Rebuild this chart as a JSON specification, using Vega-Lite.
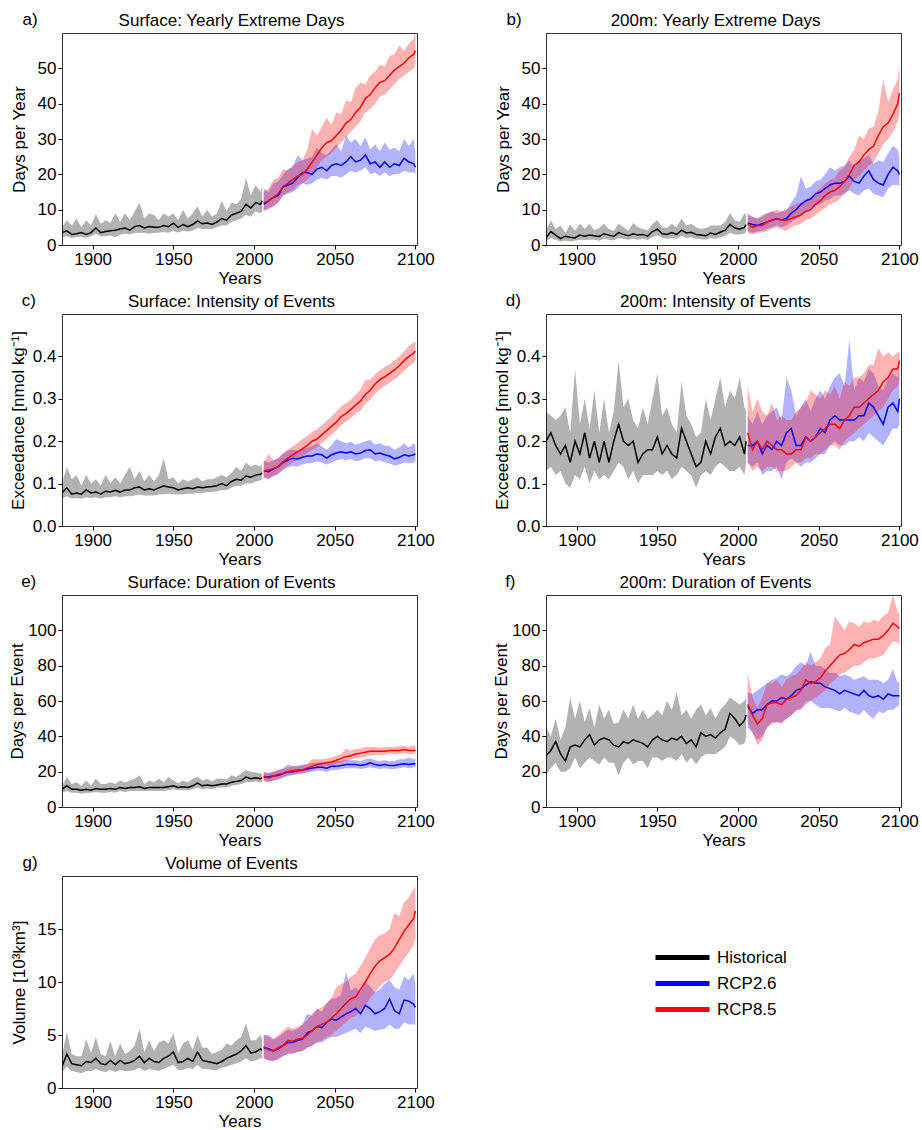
{"$schema":"https://vega.github.io/schema/vega-lite/v6.json","background":"white","padding":{"left":8,"top":10,"right":0,"bottom":0},
"config":{"font":"Liberation Sans","view":{"stroke":"#333","strokeWidth":1},
"axis":{"grid":false,"domain":false,"tickColor":"#000","tickSize":4,"tickWidth":1,"labelFontSize":17,"labelColor":"#000","labelPadding":2,"labelFlush":false,"titleFontSize":17,"titleFontWeight":"normal","titleColor":"#000"},
"title":{"fontSize":17,"fontWeight":"normal","color":"#000"},
"range":{"category":["#000000","#0000ff","#ff0000"]},
"legend":{"orient":"none","legendX":608,"legendY":912,"labelFontSize":17,"labelColor":"#000","symbolType":"M-2.7,0H2.7","symbolSize":400,"symbolStrokeWidth":5,"symbolOpacity":1,"rowPadding":3,"labelOffset":22}},
"datasets":{
"a":[{"s":"h","x":1881,"y":3.5,"l":2.2,"h":5},{"s":"h","x":1884,"y":4,"l":2.5,"h":7},{"s":"h","x":1887,"y":3,"l":2,"h":5.5},{"s":"h","x":1890,"y":3.2,"l":2.2,"h":7.5},{"s":"h","x":1893,"y":3.5,"l":2.3,"h":5},{"s":"h","x":1896,"y":3,"l":2,"h":7},{"s":"h","x":1899,"y":3.5,"l":2.5,"h":5.5},{"s":"h","x":1902,"y":4.8,"l":3.2,"h":8.8},{"s":"h","x":1905,"y":3.5,"l":2.4,"h":6},{"s":"h","x":1908,"y":3.8,"l":2.5,"h":7},{"s":"h","x":1911,"y":4,"l":2.6,"h":6.2},{"s":"h","x":1914,"y":4.2,"l":2.2,"h":9},{"s":"h","x":1917,"y":4.5,"l":3,"h":6.5},{"s":"h","x":1920,"y":4.8,"l":3.2,"h":9},{"s":"h","x":1923,"y":4.2,"l":3,"h":7},{"s":"h","x":1926,"y":5.2,"l":3.4,"h":9.5},{"s":"h","x":1929,"y":5.5,"l":3.5,"h":12},{"s":"h","x":1932,"y":4.8,"l":3.5,"h":7.5},{"s":"h","x":1935,"y":5.2,"l":3.2,"h":9},{"s":"h","x":1938,"y":5,"l":3.5,"h":8.5},{"s":"h","x":1941,"y":5,"l":3.5,"h":7},{"s":"h","x":1944,"y":5.5,"l":3.7,"h":9},{"s":"h","x":1947,"y":5.2,"l":3.5,"h":8},{"s":"h","x":1950,"y":6.2,"l":4,"h":9},{"s":"h","x":1953,"y":5,"l":3.5,"h":7},{"s":"h","x":1956,"y":5.8,"l":4,"h":10},{"s":"h","x":1959,"y":5.2,"l":3.8,"h":7.5},{"s":"h","x":1962,"y":5.8,"l":4,"h":9},{"s":"h","x":1965,"y":6.8,"l":4.8,"h":11},{"s":"h","x":1968,"y":6,"l":4.5,"h":8},{"s":"h","x":1971,"y":6.2,"l":4.5,"h":10},{"s":"h","x":1974,"y":5.8,"l":4.5,"h":8},{"s":"h","x":1977,"y":6.5,"l":5,"h":9},{"s":"h","x":1980,"y":7.5,"l":5.5,"h":12.5},{"s":"h","x":1983,"y":7,"l":5.5,"h":9.5},{"s":"h","x":1986,"y":8.5,"l":6.5,"h":12},{"s":"h","x":1989,"y":9,"l":7,"h":11.5},{"s":"h","x":1992,"y":9.5,"l":7.5,"h":13},{"s":"h","x":1995,"y":11.5,"l":8.5,"h":19},{"s":"h","x":1998,"y":10.5,"l":8,"h":14},{"s":"h","x":2001,"y":12,"l":9.5,"h":17},{"s":"h","x":2004,"y":11.5,"l":9,"h":15},{"s":"h","x":2005,"y":12.5,"l":9.5,"h":16.5},
{"s":"m","x":2006,"y":11.5,"l":9.5,"h":16},{"s":"m","x":2009,"y":12.5,"l":10.5,"h":15},{"s":"m","x":2012,"y":13.5,"l":11,"h":17.5},{"s":"m","x":2015,"y":14,"l":12,"h":18},{"s":"m","x":2018,"y":16.5,"l":14,"h":20},{"s":"m","x":2021,"y":17,"l":14.5,"h":21.5},{"s":"m","x":2024,"y":17.5,"l":15,"h":22},{"s":"m","x":2027,"y":19,"l":16,"h":25.5},{"s":"m","x":2030,"y":20.5,"l":17.5,"h":24},{"s":"m","x":2033,"y":20.5,"l":17,"h":24.5},{"s":"m","x":2036,"y":20,"l":17.5,"h":25},{"s":"m","x":2039,"y":21.5,"l":18.5,"h":27.5},{"s":"m","x":2042,"y":22,"l":19,"h":26},{"s":"m","x":2045,"y":21,"l":18.5,"h":25.5},{"s":"m","x":2048,"y":22.5,"l":19.5,"h":27},{"s":"m","x":2051,"y":23,"l":19.5,"h":28.5},{"s":"m","x":2054,"y":22.5,"l":19,"h":26.5},{"s":"m","x":2057,"y":23.5,"l":20,"h":31},{"s":"m","x":2060,"y":25,"l":21,"h":29},{"s":"m","x":2063,"y":23.5,"l":20.5,"h":30},{"s":"m","x":2066,"y":24,"l":21,"h":28},{"s":"m","x":2069,"y":25.5,"l":22,"h":30.5},{"s":"m","x":2072,"y":23,"l":20,"h":27},{"s":"m","x":2075,"y":23.5,"l":20.5,"h":28.5},{"s":"m","x":2078,"y":22,"l":19.5,"h":26.5},{"s":"m","x":2081,"y":23.5,"l":20.5,"h":29},{"s":"m","x":2084,"y":22,"l":19.5,"h":27},{"s":"m","x":2087,"y":23,"l":20,"h":27.5},{"s":"m","x":2090,"y":22.5,"l":20,"h":26.5},{"s":"m","x":2093,"y":24.5,"l":21,"h":30},{"s":"m","x":2096,"y":23.5,"l":20.5,"h":28},{"s":"m","x":2099,"y":23,"l":20.5,"h":30},{"s":"m","x":2100,"y":22,"l":20,"h":26},
{"s":"r","x":2006,"y":12,"l":10,"h":15},{"s":"r","x":2009,"y":12.5,"l":10,"h":16},{"s":"r","x":2012,"y":13.5,"l":11,"h":18.5},{"s":"r","x":2015,"y":14.5,"l":12,"h":19},{"s":"r","x":2018,"y":16.5,"l":14,"h":21.5},{"s":"r","x":2021,"y":17.5,"l":15,"h":21},{"s":"r","x":2024,"y":18.5,"l":15.5,"h":22.5},{"s":"r","x":2027,"y":19.5,"l":17,"h":23.5},{"s":"r","x":2030,"y":20,"l":17.5,"h":24},{"s":"r","x":2033,"y":21.5,"l":18.5,"h":27},{"s":"r","x":2036,"y":23.5,"l":20,"h":33},{"s":"r","x":2039,"y":25.5,"l":22,"h":31},{"s":"r","x":2042,"y":27.5,"l":24,"h":33.5},{"s":"r","x":2045,"y":29,"l":25,"h":36},{"s":"r","x":2048,"y":29.5,"l":26,"h":34},{"s":"r","x":2051,"y":31,"l":27.5,"h":37.5},{"s":"r","x":2054,"y":32.5,"l":29,"h":37},{"s":"r","x":2057,"y":34.5,"l":30.5,"h":41},{"s":"r","x":2060,"y":35.5,"l":32,"h":40.5},{"s":"r","x":2063,"y":37.5,"l":33.5,"h":44.5},{"s":"r","x":2066,"y":39,"l":35,"h":46},{"s":"r","x":2069,"y":41.5,"l":37.5,"h":45.5},{"s":"r","x":2072,"y":42.5,"l":38.5,"h":48},{"s":"r","x":2075,"y":44.5,"l":40,"h":49},{"s":"r","x":2078,"y":46,"l":42,"h":51},{"s":"r","x":2081,"y":46.5,"l":42.5,"h":50.5},{"s":"r","x":2084,"y":48,"l":44,"h":53.5},{"s":"r","x":2087,"y":49.5,"l":45.5,"h":54},{"s":"r","x":2090,"y":50.5,"l":47,"h":56.5},{"s":"r","x":2093,"y":51.5,"l":48,"h":55},{"s":"r","x":2096,"y":53,"l":49,"h":57},{"s":"r","x":2099,"y":54,"l":50,"h":58.5},{"s":"r","x":2100,"y":55,"l":51,"h":61}],
"b":[{"s":"h","x":1881,"y":2,"l":1,"h":4},{"s":"h","x":1884,"y":3.8,"l":2,"h":7},{"s":"h","x":1887,"y":2.8,"l":1.5,"h":4.5},{"s":"h","x":1890,"y":1.8,"l":1,"h":5.5},{"s":"h","x":1893,"y":2.5,"l":1.2,"h":3.5},{"s":"h","x":1896,"y":2.2,"l":1,"h":5.8},{"s":"h","x":1899,"y":2,"l":1.2,"h":4},{"s":"h","x":1902,"y":2.8,"l":1.5,"h":6},{"s":"h","x":1905,"y":2.5,"l":1.4,"h":4.5},{"s":"h","x":1908,"y":2.8,"l":1.5,"h":6},{"s":"h","x":1911,"y":2.6,"l":1.5,"h":4.2},{"s":"h","x":1914,"y":2.4,"l":1.2,"h":4.8},{"s":"h","x":1917,"y":3.2,"l":1.8,"h":6},{"s":"h","x":1920,"y":2.8,"l":1.5,"h":4.5},{"s":"h","x":1923,"y":2.4,"l":1.3,"h":4},{"s":"h","x":1926,"y":3.5,"l":2,"h":6},{"s":"h","x":1929,"y":3,"l":1.8,"h":5},{"s":"h","x":1932,"y":2.6,"l":1.5,"h":4},{"s":"h","x":1935,"y":3.2,"l":1.8,"h":6.2},{"s":"h","x":1938,"y":2.8,"l":1.5,"h":5},{"s":"h","x":1941,"y":3,"l":1.8,"h":4.5},{"s":"h","x":1944,"y":2.5,"l":1.4,"h":4.2},{"s":"h","x":1947,"y":3.8,"l":2.2,"h":6},{"s":"h","x":1950,"y":4.5,"l":2.8,"h":7},{"s":"h","x":1953,"y":3.2,"l":2,"h":5},{"s":"h","x":1956,"y":3,"l":1.8,"h":4.8},{"s":"h","x":1959,"y":3.5,"l":2,"h":6},{"s":"h","x":1962,"y":3,"l":1.8,"h":5},{"s":"h","x":1965,"y":4.2,"l":2.6,"h":7.5},{"s":"h","x":1968,"y":3.4,"l":2,"h":5.5},{"s":"h","x":1971,"y":3.6,"l":2.2,"h":6},{"s":"h","x":1974,"y":3,"l":1.8,"h":5},{"s":"h","x":1977,"y":2.8,"l":1.6,"h":4.5},{"s":"h","x":1980,"y":2.6,"l":1.5,"h":4.8},{"s":"h","x":1983,"y":3.4,"l":2,"h":5.5},{"s":"h","x":1986,"y":3,"l":1.8,"h":5.5},{"s":"h","x":1989,"y":3.6,"l":2.2,"h":5.5},{"s":"h","x":1992,"y":4.2,"l":2.5,"h":6.5},{"s":"h","x":1995,"y":5.8,"l":3.5,"h":9},{"s":"h","x":1998,"y":4.8,"l":3,"h":7},{"s":"h","x":2001,"y":4.5,"l":3,"h":6.5},{"s":"h","x":2004,"y":5,"l":3.2,"h":9},{"s":"h","x":2005,"y":5.8,"l":3.8,"h":8.5},
{"s":"m","x":2006,"y":6.2,"l":3.8,"h":8.5},{"s":"m","x":2009,"y":5.8,"l":3.5,"h":8},{"s":"m","x":2012,"y":5.5,"l":3.8,"h":7.5},{"s":"m","x":2015,"y":6,"l":4,"h":8},{"s":"m","x":2018,"y":6.5,"l":4.5,"h":9},{"s":"m","x":2021,"y":7,"l":5,"h":9.5},{"s":"m","x":2024,"y":7.5,"l":5.5,"h":9},{"s":"m","x":2027,"y":7,"l":5,"h":9.5},{"s":"m","x":2030,"y":7.5,"l":5.5,"h":10},{"s":"m","x":2033,"y":9,"l":6.5,"h":12},{"s":"m","x":2036,"y":10,"l":7.5,"h":14},{"s":"m","x":2039,"y":11.5,"l":8.5,"h":19.5},{"s":"m","x":2042,"y":12.5,"l":9.5,"h":16},{"s":"m","x":2045,"y":13,"l":10,"h":16.5},{"s":"m","x":2048,"y":14.5,"l":11,"h":18},{"s":"m","x":2051,"y":15,"l":11.5,"h":18.5},{"s":"m","x":2054,"y":16,"l":12.5,"h":20},{"s":"m","x":2057,"y":17,"l":13,"h":22},{"s":"m","x":2060,"y":17.5,"l":14,"h":21},{"s":"m","x":2063,"y":17.5,"l":14,"h":22},{"s":"m","x":2066,"y":18,"l":14.5,"h":22.5},{"s":"m","x":2069,"y":19.5,"l":15.5,"h":24},{"s":"m","x":2072,"y":18,"l":14.5,"h":22},{"s":"m","x":2075,"y":17.5,"l":14,"h":24},{"s":"m","x":2078,"y":19.5,"l":15.5,"h":24.5},{"s":"m","x":2081,"y":21,"l":16,"h":25.5},{"s":"m","x":2084,"y":18.5,"l":14.5,"h":23},{"s":"m","x":2087,"y":17.5,"l":14,"h":24},{"s":"m","x":2090,"y":17,"l":13.5,"h":23.5},{"s":"m","x":2093,"y":20,"l":16,"h":26},{"s":"m","x":2096,"y":22,"l":17,"h":28},{"s":"m","x":2099,"y":21,"l":17,"h":27},{"s":"m","x":2100,"y":20,"l":16.5,"h":25},
{"s":"r","x":2006,"y":6,"l":3.5,"h":9},{"s":"r","x":2009,"y":5,"l":3,"h":8},{"s":"r","x":2012,"y":5.5,"l":3.5,"h":7.5},{"s":"r","x":2015,"y":5.5,"l":3.5,"h":8.5},{"s":"r","x":2018,"y":6.5,"l":4,"h":9},{"s":"r","x":2021,"y":7,"l":4.5,"h":9.5},{"s":"r","x":2024,"y":7.5,"l":5,"h":10},{"s":"r","x":2027,"y":7,"l":4.5,"h":9.5},{"s":"r","x":2030,"y":7,"l":4,"h":10},{"s":"r","x":2033,"y":7.5,"l":5,"h":11},{"s":"r","x":2036,"y":8,"l":5.5,"h":11.5},{"s":"r","x":2039,"y":8.5,"l":6,"h":12},{"s":"r","x":2042,"y":9.5,"l":7,"h":13},{"s":"r","x":2045,"y":10,"l":7.5,"h":13.5},{"s":"r","x":2048,"y":11.5,"l":8.5,"h":15},{"s":"r","x":2051,"y":12.5,"l":9.5,"h":16},{"s":"r","x":2054,"y":14,"l":10.5,"h":17.5},{"s":"r","x":2057,"y":15,"l":11.5,"h":18.5},{"s":"r","x":2060,"y":15.5,"l":12,"h":19},{"s":"r","x":2063,"y":16.5,"l":13,"h":21},{"s":"r","x":2066,"y":18,"l":14.5,"h":22},{"s":"r","x":2069,"y":20,"l":16,"h":25},{"s":"r","x":2072,"y":22.5,"l":18.5,"h":27},{"s":"r","x":2075,"y":23.5,"l":19.5,"h":31},{"s":"r","x":2078,"y":25.5,"l":21,"h":30},{"s":"r","x":2081,"y":27,"l":22.5,"h":33},{"s":"r","x":2084,"y":28,"l":23.5,"h":33.5},{"s":"r","x":2087,"y":31,"l":26,"h":38},{"s":"r","x":2090,"y":33.5,"l":28.5,"h":47},{"s":"r","x":2093,"y":34.5,"l":30,"h":40.5},{"s":"r","x":2096,"y":37,"l":32,"h":44},{"s":"r","x":2099,"y":40,"l":35,"h":47},{"s":"r","x":2100,"y":43,"l":37,"h":51}],
"c":[{"s":"h","x":1881,"y":0.078,"l":0.065,"h":0.1},{"s":"h","x":1884,"y":0.09,"l":0.07,"h":0.14},{"s":"h","x":1887,"y":0.075,"l":0.065,"h":0.11},{"s":"h","x":1890,"y":0.078,"l":0.066,"h":0.12},{"s":"h","x":1893,"y":0.075,"l":0.064,"h":0.095},{"s":"h","x":1896,"y":0.085,"l":0.068,"h":0.12},{"s":"h","x":1899,"y":0.078,"l":0.066,"h":0.1},{"s":"h","x":1902,"y":0.08,"l":0.068,"h":0.11},{"s":"h","x":1905,"y":0.075,"l":0.065,"h":0.095},{"s":"h","x":1908,"y":0.082,"l":0.068,"h":0.12},{"s":"h","x":1911,"y":0.08,"l":0.068,"h":0.1},{"s":"h","x":1914,"y":0.084,"l":0.07,"h":0.115},{"s":"h","x":1917,"y":0.08,"l":0.068,"h":0.1},{"s":"h","x":1920,"y":0.085,"l":0.07,"h":0.12},{"s":"h","x":1923,"y":0.085,"l":0.07,"h":0.14},{"s":"h","x":1926,"y":0.09,"l":0.072,"h":0.11},{"s":"h","x":1929,"y":0.092,"l":0.074,"h":0.13},{"s":"h","x":1932,"y":0.085,"l":0.072,"h":0.105},{"s":"h","x":1935,"y":0.088,"l":0.072,"h":0.12},{"s":"h","x":1938,"y":0.085,"l":0.072,"h":0.105},{"s":"h","x":1941,"y":0.09,"l":0.074,"h":0.12},{"s":"h","x":1944,"y":0.095,"l":0.075,"h":0.16},{"s":"h","x":1947,"y":0.092,"l":0.076,"h":0.11},{"s":"h","x":1950,"y":0.09,"l":0.075,"h":0.115},{"s":"h","x":1953,"y":0.085,"l":0.074,"h":0.1},{"s":"h","x":1956,"y":0.088,"l":0.075,"h":0.11},{"s":"h","x":1959,"y":0.09,"l":0.076,"h":0.105},{"s":"h","x":1962,"y":0.088,"l":0.076,"h":0.11},{"s":"h","x":1965,"y":0.092,"l":0.078,"h":0.115},{"s":"h","x":1968,"y":0.09,"l":0.078,"h":0.105},{"s":"h","x":1971,"y":0.092,"l":0.08,"h":0.11},{"s":"h","x":1974,"y":0.093,"l":0.08,"h":0.11},{"s":"h","x":1977,"y":0.095,"l":0.082,"h":0.115},{"s":"h","x":1980,"y":0.1,"l":0.085,"h":0.12},{"s":"h","x":1983,"y":0.095,"l":0.085,"h":0.115},{"s":"h","x":1986,"y":0.105,"l":0.09,"h":0.125},{"s":"h","x":1989,"y":0.11,"l":0.095,"h":0.14},{"s":"h","x":1992,"y":0.108,"l":0.095,"h":0.13},{"s":"h","x":1995,"y":0.118,"l":0.1,"h":0.15},{"s":"h","x":1998,"y":0.115,"l":0.1,"h":0.14},{"s":"h","x":2001,"y":0.12,"l":0.105,"h":0.145},{"s":"h","x":2004,"y":0.122,"l":0.108,"h":0.14},{"s":"h","x":2005,"y":0.125,"l":0.11,"h":0.145},
{"s":"m","x":2006,"y":0.13,"l":0.115,"h":0.155},{"s":"m","x":2009,"y":0.128,"l":0.112,"h":0.15},{"s":"m","x":2012,"y":0.135,"l":0.118,"h":0.155},{"s":"m","x":2015,"y":0.14,"l":0.122,"h":0.16},{"s":"m","x":2018,"y":0.15,"l":0.132,"h":0.17},{"s":"m","x":2021,"y":0.155,"l":0.138,"h":0.178},{"s":"m","x":2024,"y":0.16,"l":0.142,"h":0.18},{"s":"m","x":2027,"y":0.158,"l":0.14,"h":0.178},{"s":"m","x":2030,"y":0.162,"l":0.145,"h":0.182},{"s":"m","x":2033,"y":0.165,"l":0.148,"h":0.185},{"s":"m","x":2036,"y":0.165,"l":0.148,"h":0.188},{"s":"m","x":2039,"y":0.17,"l":0.152,"h":0.195},{"s":"m","x":2042,"y":0.168,"l":0.15,"h":0.188},{"s":"m","x":2045,"y":0.16,"l":0.145,"h":0.18},{"s":"m","x":2048,"y":0.168,"l":0.15,"h":0.19},{"s":"m","x":2051,"y":0.172,"l":0.155,"h":0.205},{"s":"m","x":2054,"y":0.175,"l":0.158,"h":0.2},{"s":"m","x":2057,"y":0.172,"l":0.155,"h":0.195},{"s":"m","x":2060,"y":0.175,"l":0.158,"h":0.198},{"s":"m","x":2063,"y":0.17,"l":0.152,"h":0.192},{"s":"m","x":2066,"y":0.172,"l":0.155,"h":0.195},{"s":"m","x":2069,"y":0.178,"l":0.16,"h":0.2},{"s":"m","x":2072,"y":0.18,"l":0.16,"h":0.203},{"s":"m","x":2075,"y":0.17,"l":0.152,"h":0.192},{"s":"m","x":2078,"y":0.172,"l":0.155,"h":0.195},{"s":"m","x":2081,"y":0.168,"l":0.15,"h":0.19},{"s":"m","x":2084,"y":0.165,"l":0.148,"h":0.188},{"s":"m","x":2087,"y":0.158,"l":0.142,"h":0.18},{"s":"m","x":2090,"y":0.162,"l":0.145,"h":0.185},{"s":"m","x":2093,"y":0.168,"l":0.15,"h":0.195},{"s":"m","x":2096,"y":0.165,"l":0.148,"h":0.185},{"s":"m","x":2099,"y":0.168,"l":0.15,"h":0.195},{"s":"m","x":2100,"y":0.17,"l":0.152,"h":0.19},
{"s":"r","x":2006,"y":0.13,"l":0.115,"h":0.15},{"s":"r","x":2009,"y":0.132,"l":0.11,"h":0.17},{"s":"r","x":2012,"y":0.135,"l":0.118,"h":0.155},{"s":"r","x":2015,"y":0.14,"l":0.124,"h":0.16},{"s":"r","x":2018,"y":0.152,"l":0.135,"h":0.172},{"s":"r","x":2021,"y":0.16,"l":0.142,"h":0.18},{"s":"r","x":2024,"y":0.168,"l":0.15,"h":0.188},{"s":"r","x":2027,"y":0.175,"l":0.158,"h":0.195},{"s":"r","x":2030,"y":0.182,"l":0.165,"h":0.205},{"s":"r","x":2033,"y":0.19,"l":0.172,"h":0.212},{"s":"r","x":2036,"y":0.2,"l":0.18,"h":0.222},{"s":"r","x":2039,"y":0.205,"l":0.186,"h":0.228},{"s":"r","x":2042,"y":0.215,"l":0.195,"h":0.238},{"s":"r","x":2045,"y":0.225,"l":0.205,"h":0.248},{"s":"r","x":2048,"y":0.235,"l":0.215,"h":0.258},{"s":"r","x":2051,"y":0.245,"l":0.225,"h":0.27},{"s":"r","x":2054,"y":0.258,"l":0.238,"h":0.282},{"s":"r","x":2057,"y":0.265,"l":0.245,"h":0.29},{"s":"r","x":2060,"y":0.275,"l":0.255,"h":0.298},{"s":"r","x":2063,"y":0.285,"l":0.265,"h":0.31},{"s":"r","x":2066,"y":0.295,"l":0.272,"h":0.322},{"s":"r","x":2069,"y":0.31,"l":0.288,"h":0.345},{"s":"r","x":2072,"y":0.32,"l":0.298,"h":0.345},{"s":"r","x":2075,"y":0.335,"l":0.312,"h":0.358},{"s":"r","x":2078,"y":0.345,"l":0.322,"h":0.368},{"s":"r","x":2081,"y":0.352,"l":0.33,"h":0.375},{"s":"r","x":2084,"y":0.36,"l":0.338,"h":0.382},{"s":"r","x":2087,"y":0.368,"l":0.345,"h":0.39},{"s":"r","x":2090,"y":0.378,"l":0.355,"h":0.4},{"s":"r","x":2093,"y":0.39,"l":0.366,"h":0.412},{"s":"r","x":2096,"y":0.4,"l":0.376,"h":0.425},{"s":"r","x":2099,"y":0.408,"l":0.385,"h":0.432},{"s":"r","x":2100,"y":0.412,"l":0.39,"h":0.438}],
"d":[{"s":"h","x":1881,"y":0.2,"l":0.13,"h":0.27},{"s":"h","x":1884,"y":0.22,"l":0.14,"h":0.26},{"s":"h","x":1887,"y":0.19,"l":0.12,"h":0.25},{"s":"h","x":1890,"y":0.17,"l":0.13,"h":0.26},{"s":"h","x":1893,"y":0.19,"l":0.1,"h":0.28},{"s":"h","x":1896,"y":0.15,"l":0.09,"h":0.22},{"s":"h","x":1899,"y":0.2,"l":0.12,"h":0.37},{"s":"h","x":1902,"y":0.17,"l":0.11,"h":0.24},{"s":"h","x":1905,"y":0.22,"l":0.14,"h":0.3},{"s":"h","x":1908,"y":0.16,"l":0.1,"h":0.23},{"s":"h","x":1911,"y":0.2,"l":0.13,"h":0.32},{"s":"h","x":1914,"y":0.15,"l":0.11,"h":0.22},{"s":"h","x":1917,"y":0.2,"l":0.12,"h":0.3},{"s":"h","x":1920,"y":0.15,"l":0.11,"h":0.22},{"s":"h","x":1923,"y":0.2,"l":0.13,"h":0.27},{"s":"h","x":1926,"y":0.24,"l":0.15,"h":0.39},{"s":"h","x":1929,"y":0.2,"l":0.14,"h":0.28},{"s":"h","x":1932,"y":0.19,"l":0.11,"h":0.3},{"s":"h","x":1935,"y":0.2,"l":0.13,"h":0.25},{"s":"h","x":1938,"y":0.15,"l":0.1,"h":0.23},{"s":"h","x":1941,"y":0.17,"l":0.12,"h":0.28},{"s":"h","x":1944,"y":0.18,"l":0.12,"h":0.24},{"s":"h","x":1947,"y":0.18,"l":0.12,"h":0.3},{"s":"h","x":1950,"y":0.21,"l":0.13,"h":0.36},{"s":"h","x":1953,"y":0.17,"l":0.12,"h":0.26},{"s":"h","x":1956,"y":0.19,"l":0.13,"h":0.28},{"s":"h","x":1959,"y":0.17,"l":0.11,"h":0.24},{"s":"h","x":1962,"y":0.16,"l":0.12,"h":0.22},{"s":"h","x":1965,"y":0.23,"l":0.14,"h":0.34},{"s":"h","x":1968,"y":0.2,"l":0.13,"h":0.26},{"s":"h","x":1971,"y":0.17,"l":0.12,"h":0.24},{"s":"h","x":1974,"y":0.14,"l":0.09,"h":0.21},{"s":"h","x":1977,"y":0.15,"l":0.12,"h":0.22},{"s":"h","x":1980,"y":0.2,"l":0.13,"h":0.3},{"s":"h","x":1983,"y":0.17,"l":0.12,"h":0.25},{"s":"h","x":1986,"y":0.21,"l":0.14,"h":0.3},{"s":"h","x":1989,"y":0.23,"l":0.15,"h":0.35},{"s":"h","x":1992,"y":0.19,"l":0.14,"h":0.28},{"s":"h","x":1995,"y":0.2,"l":0.13,"h":0.32},{"s":"h","x":1998,"y":0.19,"l":0.13,"h":0.3},{"s":"h","x":2001,"y":0.21,"l":0.14,"h":0.35},{"s":"h","x":2004,"y":0.17,"l":0.12,"h":0.28},{"s":"h","x":2005,"y":0.2,"l":0.15,"h":0.27},
{"s":"m","x":2006,"y":0.19,"l":0.15,"h":0.26},{"s":"m","x":2009,"y":0.19,"l":0.14,"h":0.24},{"s":"m","x":2012,"y":0.2,"l":0.15,"h":0.27},{"s":"m","x":2015,"y":0.17,"l":0.12,"h":0.24},{"s":"m","x":2018,"y":0.19,"l":0.13,"h":0.26},{"s":"m","x":2021,"y":0.18,"l":0.13,"h":0.27},{"s":"m","x":2024,"y":0.2,"l":0.14,"h":0.28},{"s":"m","x":2027,"y":0.19,"l":0.11,"h":0.25},{"s":"m","x":2030,"y":0.22,"l":0.15,"h":0.35},{"s":"m","x":2033,"y":0.23,"l":0.16,"h":0.32},{"s":"m","x":2036,"y":0.19,"l":0.15,"h":0.26},{"s":"m","x":2039,"y":0.19,"l":0.14,"h":0.28},{"s":"m","x":2042,"y":0.21,"l":0.15,"h":0.3},{"s":"m","x":2045,"y":0.2,"l":0.15,"h":0.27},{"s":"m","x":2048,"y":0.21,"l":0.16,"h":0.3},{"s":"m","x":2051,"y":0.23,"l":0.17,"h":0.32},{"s":"m","x":2054,"y":0.22,"l":0.17,"h":0.3},{"s":"m","x":2057,"y":0.25,"l":0.19,"h":0.33},{"s":"m","x":2060,"y":0.26,"l":0.2,"h":0.35},{"s":"m","x":2063,"y":0.25,"l":0.19,"h":0.36},{"s":"m","x":2066,"y":0.25,"l":0.19,"h":0.33},{"s":"m","x":2069,"y":0.25,"l":0.2,"h":0.44},{"s":"m","x":2072,"y":0.25,"l":0.2,"h":0.32},{"s":"m","x":2075,"y":0.26,"l":0.21,"h":0.35},{"s":"m","x":2078,"y":0.26,"l":0.2,"h":0.34},{"s":"m","x":2081,"y":0.29,"l":0.22,"h":0.37},{"s":"m","x":2084,"y":0.28,"l":0.21,"h":0.36},{"s":"m","x":2087,"y":0.26,"l":0.2,"h":0.33},{"s":"m","x":2090,"y":0.24,"l":0.19,"h":0.32},{"s":"m","x":2093,"y":0.28,"l":0.21,"h":0.35},{"s":"m","x":2096,"y":0.29,"l":0.23,"h":0.36},{"s":"m","x":2099,"y":0.27,"l":0.23,"h":0.35},{"s":"m","x":2100,"y":0.3,"l":0.24,"h":0.38},
{"s":"r","x":2006,"y":0.22,"l":0.15,"h":0.33},{"s":"r","x":2009,"y":0.18,"l":0.13,"h":0.27},{"s":"r","x":2012,"y":0.2,"l":0.14,"h":0.3},{"s":"r","x":2015,"y":0.18,"l":0.13,"h":0.27},{"s":"r","x":2018,"y":0.2,"l":0.14,"h":0.26},{"s":"r","x":2021,"y":0.19,"l":0.14,"h":0.29},{"s":"r","x":2024,"y":0.18,"l":0.13,"h":0.25},{"s":"r","x":2027,"y":0.18,"l":0.13,"h":0.26},{"s":"r","x":2030,"y":0.17,"l":0.13,"h":0.25},{"s":"r","x":2033,"y":0.17,"l":0.14,"h":0.25},{"s":"r","x":2036,"y":0.18,"l":0.15,"h":0.27},{"s":"r","x":2039,"y":0.18,"l":0.15,"h":0.28},{"s":"r","x":2042,"y":0.21,"l":0.16,"h":0.29},{"s":"r","x":2045,"y":0.2,"l":0.16,"h":0.32},{"s":"r","x":2048,"y":0.21,"l":0.17,"h":0.31},{"s":"r","x":2051,"y":0.22,"l":0.17,"h":0.3},{"s":"r","x":2054,"y":0.23,"l":0.18,"h":0.32},{"s":"r","x":2057,"y":0.24,"l":0.19,"h":0.31},{"s":"r","x":2060,"y":0.24,"l":0.19,"h":0.33},{"s":"r","x":2063,"y":0.23,"l":0.18,"h":0.3},{"s":"r","x":2066,"y":0.25,"l":0.2,"h":0.34},{"s":"r","x":2069,"y":0.26,"l":0.21,"h":0.33},{"s":"r","x":2072,"y":0.28,"l":0.22,"h":0.35},{"s":"r","x":2075,"y":0.28,"l":0.23,"h":0.35},{"s":"r","x":2078,"y":0.29,"l":0.24,"h":0.36},{"s":"r","x":2081,"y":0.3,"l":0.25,"h":0.38},{"s":"r","x":2084,"y":0.31,"l":0.26,"h":0.38},{"s":"r","x":2087,"y":0.32,"l":0.27,"h":0.42},{"s":"r","x":2090,"y":0.34,"l":0.28,"h":0.4},{"s":"r","x":2093,"y":0.35,"l":0.3,"h":0.41},{"s":"r","x":2096,"y":0.37,"l":0.32,"h":0.4},{"s":"r","x":2099,"y":0.37,"l":0.33,"h":0.41},{"s":"r","x":2100,"y":0.39,"l":0.34,"h":0.41}],
"e":[{"s":"h","x":1881,"y":10,"l":8,"h":12},{"s":"h","x":1884,"y":12,"l":9,"h":17},{"s":"h","x":1887,"y":10,"l":8,"h":13},{"s":"h","x":1890,"y":10,"l":8,"h":14},{"s":"h","x":1893,"y":9.5,"l":7.5,"h":12},{"s":"h","x":1896,"y":10,"l":8,"h":15},{"s":"h","x":1899,"y":9.5,"l":8,"h":12},{"s":"h","x":1902,"y":10.5,"l":8.5,"h":16},{"s":"h","x":1905,"y":10,"l":8,"h":13},{"s":"h","x":1908,"y":10,"l":8,"h":13},{"s":"h","x":1911,"y":10.5,"l":8.5,"h":14},{"s":"h","x":1914,"y":10,"l":8,"h":13},{"s":"h","x":1917,"y":11,"l":9,"h":15},{"s":"h","x":1920,"y":10.5,"l":8.5,"h":14},{"s":"h","x":1923,"y":11,"l":9,"h":15},{"s":"h","x":1926,"y":11,"l":9,"h":16},{"s":"h","x":1929,"y":11.5,"l":9,"h":18},{"s":"h","x":1932,"y":10.5,"l":9,"h":13},{"s":"h","x":1935,"y":11,"l":9,"h":15},{"s":"h","x":1938,"y":11,"l":9,"h":14},{"s":"h","x":1941,"y":11,"l":9,"h":16},{"s":"h","x":1944,"y":11,"l":9,"h":14},{"s":"h","x":1947,"y":11.5,"l":9.5,"h":17},{"s":"h","x":1950,"y":12,"l":10,"h":15},{"s":"h","x":1953,"y":11,"l":9.5,"h":13.5},{"s":"h","x":1956,"y":11.5,"l":9.5,"h":15},{"s":"h","x":1959,"y":11,"l":9.5,"h":14},{"s":"h","x":1962,"y":12,"l":10,"h":16},{"s":"h","x":1965,"y":13.5,"l":11,"h":17},{"s":"h","x":1968,"y":12,"l":10,"h":15},{"s":"h","x":1971,"y":12.5,"l":10.5,"h":16},{"s":"h","x":1974,"y":12,"l":10,"h":14.5},{"s":"h","x":1977,"y":12.5,"l":11,"h":16},{"s":"h","x":1980,"y":13,"l":11,"h":16},{"s":"h","x":1983,"y":13,"l":11,"h":15.5},{"s":"h","x":1986,"y":14,"l":12,"h":18},{"s":"h","x":1989,"y":14.5,"l":12.5,"h":17},{"s":"h","x":1992,"y":15,"l":13,"h":19},{"s":"h","x":1995,"y":17,"l":14,"h":21},{"s":"h","x":1998,"y":16,"l":14,"h":20},{"s":"h","x":2001,"y":16.5,"l":14.5,"h":19.5},{"s":"h","x":2004,"y":16,"l":14,"h":19},{"s":"h","x":2005,"y":16.5,"l":14.5,"h":19},
{"s":"m","x":2006,"y":17,"l":14.5,"h":19.5},{"s":"m","x":2009,"y":17,"l":14.5,"h":19},{"s":"m","x":2012,"y":17.5,"l":15,"h":20},{"s":"m","x":2015,"y":18,"l":15.5,"h":21},{"s":"m","x":2018,"y":19,"l":16.5,"h":22},{"s":"m","x":2021,"y":20,"l":17.5,"h":24},{"s":"m","x":2024,"y":20,"l":18,"h":23},{"s":"m","x":2027,"y":20.5,"l":18.5,"h":23},{"s":"m","x":2030,"y":21,"l":19,"h":24},{"s":"m","x":2033,"y":21.5,"l":19.5,"h":24},{"s":"m","x":2036,"y":22,"l":20,"h":25},{"s":"m","x":2039,"y":22.5,"l":20.5,"h":25},{"s":"m","x":2042,"y":22.5,"l":20.5,"h":25.5},{"s":"m","x":2045,"y":22,"l":20,"h":25},{"s":"m","x":2048,"y":23,"l":21,"h":25.5},{"s":"m","x":2051,"y":23,"l":21,"h":26},{"s":"m","x":2054,"y":23.5,"l":21.5,"h":26},{"s":"m","x":2057,"y":24,"l":22,"h":27},{"s":"m","x":2060,"y":24,"l":22,"h":26.5},{"s":"m","x":2063,"y":24,"l":22,"h":26.5},{"s":"m","x":2066,"y":23.5,"l":21.5,"h":26},{"s":"m","x":2069,"y":24,"l":22,"h":27},{"s":"m","x":2072,"y":25,"l":22.5,"h":27.5},{"s":"m","x":2075,"y":24,"l":22,"h":26.5},{"s":"m","x":2078,"y":23.5,"l":21.5,"h":26},{"s":"m","x":2081,"y":24,"l":22,"h":26.5},{"s":"m","x":2084,"y":23.5,"l":21.5,"h":26},{"s":"m","x":2087,"y":23.5,"l":21.5,"h":26},{"s":"m","x":2090,"y":24,"l":22,"h":27},{"s":"m","x":2093,"y":24.5,"l":22.5,"h":27},{"s":"m","x":2096,"y":24,"l":22,"h":28},{"s":"m","x":2099,"y":24.5,"l":22.5,"h":27},{"s":"m","x":2100,"y":24.5,"l":22.5,"h":27},
{"s":"r","x":2006,"y":17.5,"l":15,"h":20},{"s":"r","x":2009,"y":16.5,"l":14,"h":19.5},{"s":"r","x":2012,"y":17.5,"l":15,"h":20},{"s":"r","x":2015,"y":18.5,"l":16,"h":21},{"s":"r","x":2018,"y":19,"l":17,"h":21.5},{"s":"r","x":2021,"y":20,"l":18,"h":22.5},{"s":"r","x":2024,"y":20.5,"l":18.5,"h":23},{"s":"r","x":2027,"y":21,"l":19,"h":23.5},{"s":"r","x":2030,"y":21,"l":19,"h":23.5},{"s":"r","x":2033,"y":22,"l":20,"h":24.5},{"s":"r","x":2036,"y":23,"l":21,"h":27},{"s":"r","x":2039,"y":24,"l":21.5,"h":27},{"s":"r","x":2042,"y":24.5,"l":22.5,"h":27},{"s":"r","x":2045,"y":25,"l":23,"h":27.5},{"s":"r","x":2048,"y":25.5,"l":23.5,"h":28},{"s":"r","x":2051,"y":26.5,"l":24.5,"h":29},{"s":"r","x":2054,"y":27.5,"l":25,"h":30},{"s":"r","x":2057,"y":28.5,"l":26,"h":33},{"s":"r","x":2060,"y":29,"l":27,"h":32},{"s":"r","x":2063,"y":30,"l":27.5,"h":33},{"s":"r","x":2066,"y":30.5,"l":28,"h":33},{"s":"r","x":2069,"y":31,"l":28.5,"h":34},{"s":"r","x":2072,"y":31.5,"l":29,"h":34},{"s":"r","x":2075,"y":31.5,"l":29.5,"h":34},{"s":"r","x":2078,"y":31.5,"l":29.5,"h":33.5},{"s":"r","x":2081,"y":31.5,"l":29.5,"h":34},{"s":"r","x":2084,"y":32,"l":30,"h":34},{"s":"r","x":2087,"y":32,"l":30,"h":34},{"s":"r","x":2090,"y":32,"l":30,"h":34.5},{"s":"r","x":2093,"y":32.5,"l":30.5,"h":34.5},{"s":"r","x":2096,"y":32,"l":30,"h":34},{"s":"r","x":2099,"y":32,"l":30,"h":35},{"s":"r","x":2100,"y":32,"l":30,"h":34.5}],
"f":[{"s":"h","x":1881,"y":29,"l":18,"h":45},{"s":"h","x":1884,"y":32,"l":22,"h":40},{"s":"h","x":1887,"y":37,"l":25,"h":50},{"s":"h","x":1890,"y":30,"l":20,"h":38},{"s":"h","x":1893,"y":26,"l":20,"h":45},{"s":"h","x":1896,"y":34,"l":22,"h":62},{"s":"h","x":1899,"y":35,"l":28,"h":50},{"s":"h","x":1902,"y":34,"l":22,"h":60},{"s":"h","x":1905,"y":38,"l":25,"h":48},{"s":"h","x":1908,"y":41,"l":28,"h":56},{"s":"h","x":1911,"y":35,"l":26,"h":45},{"s":"h","x":1914,"y":38,"l":24,"h":58},{"s":"h","x":1917,"y":39,"l":28,"h":50},{"s":"h","x":1920,"y":38,"l":25,"h":55},{"s":"h","x":1923,"y":35,"l":25,"h":47},{"s":"h","x":1926,"y":34,"l":18,"h":48},{"s":"h","x":1929,"y":37,"l":25,"h":55},{"s":"h","x":1932,"y":36,"l":28,"h":50},{"s":"h","x":1935,"y":38,"l":24,"h":58},{"s":"h","x":1938,"y":37,"l":26,"h":50},{"s":"h","x":1941,"y":36,"l":26,"h":55},{"s":"h","x":1944,"y":34,"l":22,"h":50},{"s":"h","x":1947,"y":38,"l":28,"h":52},{"s":"h","x":1950,"y":40,"l":28,"h":55},{"s":"h","x":1953,"y":38,"l":26,"h":52},{"s":"h","x":1956,"y":37,"l":28,"h":60},{"s":"h","x":1959,"y":39,"l":28,"h":55},{"s":"h","x":1962,"y":38,"l":26,"h":65},{"s":"h","x":1965,"y":40,"l":30,"h":52},{"s":"h","x":1968,"y":36,"l":25,"h":55},{"s":"h","x":1971,"y":38,"l":28,"h":50},{"s":"h","x":1974,"y":34,"l":24,"h":55},{"s":"h","x":1977,"y":42,"l":28,"h":58},{"s":"h","x":1980,"y":40,"l":30,"h":52},{"s":"h","x":1983,"y":41,"l":30,"h":56},{"s":"h","x":1986,"y":39,"l":30,"h":50},{"s":"h","x":1989,"y":42,"l":32,"h":55},{"s":"h","x":1992,"y":44,"l":34,"h":58},{"s":"h","x":1995,"y":53,"l":40,"h":62},{"s":"h","x":1998,"y":50,"l":38,"h":60},{"s":"h","x":2001,"y":46,"l":35,"h":58},{"s":"h","x":2004,"y":49,"l":36,"h":60},{"s":"h","x":2005,"y":52,"l":40,"h":62},
{"s":"m","x":2006,"y":57,"l":45,"h":65},{"s":"m","x":2009,"y":53,"l":42,"h":64},{"s":"m","x":2012,"y":55,"l":38,"h":66},{"s":"m","x":2015,"y":55,"l":40,"h":68},{"s":"m","x":2018,"y":58,"l":45,"h":70},{"s":"m","x":2021,"y":60,"l":48,"h":72},{"s":"m","x":2024,"y":60,"l":48,"h":73},{"s":"m","x":2027,"y":62,"l":48,"h":75},{"s":"m","x":2030,"y":61,"l":50,"h":74},{"s":"m","x":2033,"y":63,"l":52,"h":76},{"s":"m","x":2036,"y":66,"l":55,"h":80},{"s":"m","x":2039,"y":67,"l":55,"h":82},{"s":"m","x":2042,"y":69,"l":58,"h":80},{"s":"m","x":2045,"y":71,"l":60,"h":88},{"s":"m","x":2048,"y":70,"l":58,"h":80},{"s":"m","x":2051,"y":70,"l":56,"h":80},{"s":"m","x":2054,"y":68,"l":56,"h":78},{"s":"m","x":2057,"y":67,"l":56,"h":76},{"s":"m","x":2060,"y":66,"l":55,"h":76},{"s":"m","x":2063,"y":64,"l":54,"h":74},{"s":"m","x":2066,"y":66,"l":56,"h":75},{"s":"m","x":2069,"y":65,"l":54,"h":74},{"s":"m","x":2072,"y":64,"l":53,"h":72},{"s":"m","x":2075,"y":63,"l":52,"h":73},{"s":"m","x":2078,"y":66,"l":55,"h":74},{"s":"m","x":2081,"y":63,"l":52,"h":72},{"s":"m","x":2084,"y":62,"l":50,"h":72},{"s":"m","x":2087,"y":63,"l":54,"h":72},{"s":"m","x":2090,"y":61,"l":53,"h":70},{"s":"m","x":2093,"y":64,"l":55,"h":72},{"s":"m","x":2096,"y":63,"l":55,"h":78},{"s":"m","x":2099,"y":63,"l":57,"h":70},{"s":"m","x":2100,"y":63,"l":58,"h":72},
{"s":"r","x":2006,"y":58,"l":48,"h":76},{"s":"r","x":2009,"y":52,"l":42,"h":62},{"s":"r","x":2012,"y":47,"l":35,"h":56},{"s":"r","x":2015,"y":50,"l":38,"h":62},{"s":"r","x":2018,"y":58,"l":45,"h":70},{"s":"r","x":2021,"y":59,"l":47,"h":70},{"s":"r","x":2024,"y":59,"l":48,"h":72},{"s":"r","x":2027,"y":58,"l":47,"h":68},{"s":"r","x":2030,"y":61,"l":50,"h":72},{"s":"r","x":2033,"y":62,"l":52,"h":74},{"s":"r","x":2036,"y":63,"l":54,"h":75},{"s":"r","x":2039,"y":66,"l":56,"h":78},{"s":"r","x":2042,"y":72,"l":60,"h":82},{"s":"r","x":2045,"y":70,"l":60,"h":80},{"s":"r","x":2048,"y":71,"l":62,"h":82},{"s":"r","x":2051,"y":73,"l":64,"h":84},{"s":"r","x":2054,"y":77,"l":66,"h":90},{"s":"r","x":2057,"y":80,"l":70,"h":92},{"s":"r","x":2060,"y":83,"l":72,"h":108},{"s":"r","x":2063,"y":86,"l":75,"h":104},{"s":"r","x":2066,"y":87,"l":76,"h":100},{"s":"r","x":2069,"y":89,"l":78,"h":105},{"s":"r","x":2072,"y":92,"l":80,"h":104},{"s":"r","x":2075,"y":91,"l":80,"h":102},{"s":"r","x":2078,"y":93,"l":82,"h":105},{"s":"r","x":2081,"y":94,"l":84,"h":104},{"s":"r","x":2084,"y":95,"l":84,"h":106},{"s":"r","x":2087,"y":95,"l":85,"h":105},{"s":"r","x":2090,"y":97,"l":86,"h":108},{"s":"r","x":2093,"y":100,"l":90,"h":110},{"s":"r","x":2096,"y":104,"l":94,"h":120},{"s":"r","x":2099,"y":102,"l":93,"h":110},{"s":"r","x":2100,"y":101,"l":92,"h":110}],
"g":[{"s":"h","x":1881,"y":2,"l":1.5,"h":3},{"s":"h","x":1884,"y":3.2,"l":2,"h":5.3},{"s":"h","x":1887,"y":2.3,"l":1.6,"h":3.2},{"s":"h","x":1890,"y":2.2,"l":1.5,"h":3},{"s":"h","x":1893,"y":2.1,"l":1.4,"h":3},{"s":"h","x":1896,"y":2.5,"l":1.6,"h":4.6},{"s":"h","x":1899,"y":2.4,"l":1.6,"h":3.3},{"s":"h","x":1902,"y":2.8,"l":1.8,"h":4.8},{"s":"h","x":1905,"y":2.3,"l":1.6,"h":3.2},{"s":"h","x":1908,"y":2.2,"l":1.5,"h":3},{"s":"h","x":1911,"y":2.6,"l":1.7,"h":4.4},{"s":"h","x":1914,"y":2.2,"l":1.5,"h":3},{"s":"h","x":1917,"y":2.6,"l":1.7,"h":4.2},{"s":"h","x":1920,"y":2.3,"l":1.6,"h":3.2},{"s":"h","x":1923,"y":2.4,"l":1.6,"h":3.5},{"s":"h","x":1926,"y":2.6,"l":1.7,"h":4},{"s":"h","x":1929,"y":3,"l":1.9,"h":5.6},{"s":"h","x":1932,"y":2.4,"l":1.6,"h":3.4},{"s":"h","x":1935,"y":2.8,"l":1.8,"h":4.5},{"s":"h","x":1938,"y":2.5,"l":1.7,"h":3.5},{"s":"h","x":1941,"y":2.4,"l":1.6,"h":4.3},{"s":"h","x":1944,"y":2.8,"l":1.8,"h":4.5},{"s":"h","x":1947,"y":3,"l":2,"h":4.2},{"s":"h","x":1950,"y":3.4,"l":2.2,"h":5.2},{"s":"h","x":1953,"y":2.4,"l":1.7,"h":3.3},{"s":"h","x":1956,"y":2.5,"l":1.7,"h":4.2},{"s":"h","x":1959,"y":2.8,"l":1.9,"h":4.5},{"s":"h","x":1962,"y":2.5,"l":1.8,"h":3.6},{"s":"h","x":1965,"y":3.4,"l":2.2,"h":5},{"s":"h","x":1968,"y":2.6,"l":1.8,"h":3.8},{"s":"h","x":1971,"y":2.5,"l":1.8,"h":3.8},{"s":"h","x":1974,"y":2.4,"l":1.7,"h":3.2},{"s":"h","x":1977,"y":2.3,"l":1.7,"h":3.4},{"s":"h","x":1980,"y":2.5,"l":1.9,"h":3.6},{"s":"h","x":1983,"y":2.8,"l":2,"h":4.2},{"s":"h","x":1986,"y":3,"l":2.2,"h":4},{"s":"h","x":1989,"y":3.2,"l":2.3,"h":4.5},{"s":"h","x":1992,"y":3.5,"l":2.5,"h":4.8},{"s":"h","x":1995,"y":4,"l":2.8,"h":6.1},{"s":"h","x":1998,"y":3.3,"l":2.5,"h":4.5},{"s":"h","x":2001,"y":3.4,"l":2.6,"h":4.5},{"s":"h","x":2004,"y":3.7,"l":2.8,"h":5},{"s":"h","x":2005,"y":3.6,"l":2.8,"h":4.6},
{"s":"m","x":2006,"y":3.8,"l":2.8,"h":5},{"s":"m","x":2009,"y":3.7,"l":2.6,"h":5},{"s":"m","x":2012,"y":3.5,"l":2.6,"h":4.6},{"s":"m","x":2015,"y":3.7,"l":2.7,"h":4.8},{"s":"m","x":2018,"y":4,"l":3,"h":5.2},{"s":"m","x":2021,"y":4.3,"l":3.2,"h":5.5},{"s":"m","x":2024,"y":4.3,"l":3.2,"h":5.4},{"s":"m","x":2027,"y":4.5,"l":3.4,"h":5.6},{"s":"m","x":2030,"y":4.6,"l":3.5,"h":6},{"s":"m","x":2033,"y":5.2,"l":3.8,"h":7},{"s":"m","x":2036,"y":5.4,"l":4,"h":6.8},{"s":"m","x":2039,"y":5.8,"l":4.3,"h":7.5},{"s":"m","x":2042,"y":5.7,"l":4.3,"h":7.2},{"s":"m","x":2045,"y":6.2,"l":4.6,"h":8},{"s":"m","x":2048,"y":6.5,"l":4.8,"h":8.4},{"s":"m","x":2051,"y":6.4,"l":4.8,"h":8.5},{"s":"m","x":2054,"y":6.7,"l":5,"h":8.8},{"s":"m","x":2057,"y":7,"l":5.2,"h":11},{"s":"m","x":2060,"y":7.2,"l":5.4,"h":9.2},{"s":"m","x":2063,"y":7.5,"l":5.6,"h":9.5},{"s":"m","x":2066,"y":7,"l":5.2,"h":9},{"s":"m","x":2069,"y":7.8,"l":5.8,"h":10},{"s":"m","x":2072,"y":7.5,"l":5.6,"h":9.6},{"s":"m","x":2075,"y":7,"l":5.4,"h":9},{"s":"m","x":2078,"y":7.2,"l":5.5,"h":9.3},{"s":"m","x":2081,"y":7.5,"l":5.6,"h":9.8},{"s":"m","x":2084,"y":8.4,"l":6,"h":10.2},{"s":"m","x":2087,"y":7.3,"l":5.6,"h":9.5},{"s":"m","x":2090,"y":7,"l":5.6,"h":9.3},{"s":"m","x":2093,"y":8.3,"l":6.2,"h":10.5},{"s":"m","x":2096,"y":8.2,"l":6,"h":10.2},{"s":"m","x":2099,"y":7.9,"l":6,"h":10.8},{"s":"m","x":2100,"y":7.6,"l":6,"h":9.8},
{"s":"r","x":2006,"y":3.9,"l":2.8,"h":5},{"s":"r","x":2009,"y":3.6,"l":2.6,"h":4.8},{"s":"r","x":2012,"y":3.5,"l":2.5,"h":4.6},{"s":"r","x":2015,"y":3.8,"l":2.8,"h":5},{"s":"r","x":2018,"y":4,"l":3,"h":5.4},{"s":"r","x":2021,"y":4.5,"l":3.3,"h":5.8},{"s":"r","x":2024,"y":4.4,"l":3.3,"h":5.6},{"s":"r","x":2027,"y":4.6,"l":3.4,"h":5.8},{"s":"r","x":2030,"y":4.7,"l":3.5,"h":6},{"s":"r","x":2033,"y":5,"l":3.8,"h":6.4},{"s":"r","x":2036,"y":5.4,"l":4,"h":7},{"s":"r","x":2039,"y":5.8,"l":4.3,"h":7.4},{"s":"r","x":2042,"y":6,"l":4.5,"h":7.6},{"s":"r","x":2045,"y":6.2,"l":4.8,"h":8},{"s":"r","x":2048,"y":6.6,"l":5,"h":8.5},{"s":"r","x":2051,"y":7,"l":5.4,"h":9.5},{"s":"r","x":2054,"y":7.5,"l":5.8,"h":9.8},{"s":"r","x":2057,"y":8,"l":6.2,"h":10},{"s":"r","x":2060,"y":8.4,"l":6.6,"h":10.5},{"s":"r","x":2063,"y":8.6,"l":6.8,"h":10.8},{"s":"r","x":2066,"y":9.3,"l":7.3,"h":11.5},{"s":"r","x":2069,"y":10,"l":7.8,"h":12.3},{"s":"r","x":2072,"y":10.8,"l":8.5,"h":13.2},{"s":"r","x":2075,"y":11.5,"l":9,"h":14},{"s":"r","x":2078,"y":12,"l":9.6,"h":14.4},{"s":"r","x":2081,"y":12.3,"l":10,"h":14.6},{"s":"r","x":2084,"y":12.6,"l":10.2,"h":15},{"s":"r","x":2087,"y":13.2,"l":10.8,"h":16.5},{"s":"r","x":2090,"y":14,"l":11.5,"h":16.2},{"s":"r","x":2093,"y":14.8,"l":12.2,"h":17.5},{"s":"r","x":2096,"y":15.4,"l":12.8,"h":18},{"s":"r","x":2099,"y":16,"l":13.5,"h":18.8},{"s":"r","x":2100,"y":16.7,"l":14.2,"h":19}]},
"columns":2,"spacing":{"row":4,"column":57},
"concat":[
{"title":{"text":"a)","anchor":"start","frame":"bounds","offset":0,"dx":13,"dy":17,"fontSize":17},"vconcat":[{"width":355,"height":212,"title":{"text":"Surface: Yearly Extreme Days","frame":"group","offset":3,"dx":-8},"data":{"name":"a"},"encoding":{"x":{"field":"x","type":"quantitative","scale":{"domain":[1881,2101]},"axis":{"values":[1900,1950,2000,2050,2100],"format":"d","title":"Years","titlePadding":3}}},"layer":[{"mark":{"type":"area","opacity":0.3,"clip":true},"encoding":{"y":{"field":"l","type":"quantitative","scale":{"domain":[0,60]},"axis":{"values":[0,10,20,30,40,50],"title":"Days per Year","titlePadding":9}},"y2":{"field":"h"},"color":{"field":"s","type":"nominal","legend":{"title":null,"symbolOpacity":1,"labelExpr":"datum.label=='h'?'Historical':datum.label=='m'?'RCP2.6':'RCP8.5'","encode":{"symbols":{"update":{"stroke":[{"test":"datum.value==='h'","value":"#444444"},{"scale":"color","field":"value"}],"strokeWidth":{"value":5},"fill":{"value":"transparent"},"opacity":{"value":1},"strokeOpacity":{"value":1}}}}}}}},{"mark":{"type":"line","strokeWidth":1.5,"clip":true},"encoding":{"y":{"field":"y","type":"quantitative"},"color":{"field":"s","type":"nominal"}}}]}]},
{"title":{"text":"b)","anchor":"start","frame":"bounds","offset":0,"dx":13,"dy":17,"fontSize":17},"vconcat":[{"width":355,"height":212,"title":{"text":"200m: Yearly Extreme Days","frame":"group","offset":3,"dx":-8},"data":{"name":"b"},"encoding":{"x":{"field":"x","type":"quantitative","scale":{"domain":[1881,2101]},"axis":{"values":[1900,1950,2000,2050,2100],"format":"d","title":"Years","titlePadding":3}}},"layer":[{"mark":{"type":"area","opacity":0.3,"clip":true},"encoding":{"y":{"field":"l","type":"quantitative","scale":{"domain":[0,60]},"axis":{"values":[0,10,20,30,40,50],"title":"Days per Year","titlePadding":9}},"y2":{"field":"h"},"color":{"field":"s","type":"nominal"}}},{"mark":{"type":"line","strokeWidth":1.5,"clip":true},"encoding":{"y":{"field":"y","type":"quantitative"},"color":{"field":"s","type":"nominal"}}}]}]},
{"title":{"text":"c)","anchor":"start","frame":"bounds","offset":0,"dx":13,"dy":17,"fontSize":17},"vconcat":[{"width":355,"height":212,"title":{"text":"Surface: Intensity of Events","frame":"group","offset":3,"dx":-8},"data":{"name":"c"},"encoding":{"x":{"field":"x","type":"quantitative","scale":{"domain":[1881,2101]},"axis":{"values":[1900,1950,2000,2050,2100],"format":"d","title":"Years","titlePadding":3}}},"layer":[{"mark":{"type":"area","opacity":0.3,"clip":true},"encoding":{"y":{"field":"l","type":"quantitative","scale":{"domain":[0,0.5]},"axis":{"values":[0,0.1,0.2,0.3,0.4],"format":".1f","title":"Exceedance [nmol kg⁻¹]","titlePadding":5}},"y2":{"field":"h"},"color":{"field":"s","type":"nominal"}}},{"mark":{"type":"line","strokeWidth":1.5,"clip":true},"encoding":{"y":{"field":"y","type":"quantitative"},"color":{"field":"s","type":"nominal"}}}]}]},
{"title":{"text":"d)","anchor":"start","frame":"bounds","offset":0,"dx":13,"dy":17,"fontSize":17},"vconcat":[{"width":355,"height":212,"title":{"text":"200m: Intensity of Events","frame":"group","offset":3,"dx":-8},"data":{"name":"d"},"encoding":{"x":{"field":"x","type":"quantitative","scale":{"domain":[1881,2101]},"axis":{"values":[1900,1950,2000,2050,2100],"format":"d","title":"Years","titlePadding":3}}},"layer":[{"mark":{"type":"area","opacity":0.3,"clip":true},"encoding":{"y":{"field":"l","type":"quantitative","scale":{"domain":[0,0.5]},"axis":{"values":[0,0.1,0.2,0.3,0.4],"format":".1f","title":"Exceedance [nmol kg⁻¹]","titlePadding":5}},"y2":{"field":"h"},"color":{"field":"s","type":"nominal"}}},{"mark":{"type":"line","strokeWidth":1.5,"clip":true},"encoding":{"y":{"field":"y","type":"quantitative"},"color":{"field":"s","type":"nominal"}}}]}]},
{"title":{"text":"e)","anchor":"start","frame":"bounds","offset":0,"dx":13,"dy":17,"fontSize":17},"vconcat":[{"width":355,"height":212,"title":{"text":"Surface: Duration of Events","frame":"group","offset":3,"dx":-8},"data":{"name":"e"},"encoding":{"x":{"field":"x","type":"quantitative","scale":{"domain":[1881,2101]},"axis":{"values":[1900,1950,2000,2050,2100],"format":"d","title":"Years","titlePadding":3}}},"layer":[{"mark":{"type":"area","opacity":0.3,"clip":true},"encoding":{"y":{"field":"l","type":"quantitative","scale":{"domain":[0,120]},"axis":{"values":[0,20,40,60,80,100],"title":"Days per Event","titlePadding":1}},"y2":{"field":"h"},"color":{"field":"s","type":"nominal"}}},{"mark":{"type":"line","strokeWidth":1.5,"clip":true},"encoding":{"y":{"field":"y","type":"quantitative"},"color":{"field":"s","type":"nominal"}}}]}]},
{"title":{"text":"f)","anchor":"start","frame":"bounds","offset":0,"dx":13,"dy":17,"fontSize":17},"vconcat":[{"width":355,"height":212,"title":{"text":"200m: Duration of Events","frame":"group","offset":3,"dx":-8},"data":{"name":"f"},"encoding":{"x":{"field":"x","type":"quantitative","scale":{"domain":[1881,2101]},"axis":{"values":[1900,1950,2000,2050,2100],"format":"d","title":"Years","titlePadding":3}}},"layer":[{"mark":{"type":"area","opacity":0.3,"clip":true},"encoding":{"y":{"field":"l","type":"quantitative","scale":{"domain":[0,120]},"axis":{"values":[0,20,40,60,80,100],"title":"Days per Event","titlePadding":1}},"y2":{"field":"h"},"color":{"field":"s","type":"nominal"}}},{"mark":{"type":"line","strokeWidth":1.5,"clip":true},"encoding":{"y":{"field":"y","type":"quantitative"},"color":{"field":"s","type":"nominal"}}}]}]},
{"title":{"text":"g)","anchor":"start","frame":"bounds","offset":0,"dx":13,"dy":17,"fontSize":17},"vconcat":[{"width":355,"height":212,"title":{"text":"Volume of Events","frame":"group","offset":3,"dx":-8},"data":{"name":"g"},"encoding":{"x":{"field":"x","type":"quantitative","scale":{"domain":[1881,2101]},"axis":{"values":[1900,1950,2000,2050,2100],"format":"d","title":"Years","titlePadding":3}}},"layer":[{"mark":{"type":"area","opacity":0.3,"clip":true},"encoding":{"y":{"field":"l","type":"quantitative","scale":{"domain":[0,20]},"axis":{"values":[0,5,10,15],"title":"Volume [10³km³]","titlePadding":9}},"y2":{"field":"h"},"color":{"field":"s","type":"nominal"}}},{"mark":{"type":"line","strokeWidth":1.5,"clip":true},"encoding":{"y":{"field":"y","type":"quantitative"},"color":{"field":"s","type":"nominal"}}}]}]}
]}
